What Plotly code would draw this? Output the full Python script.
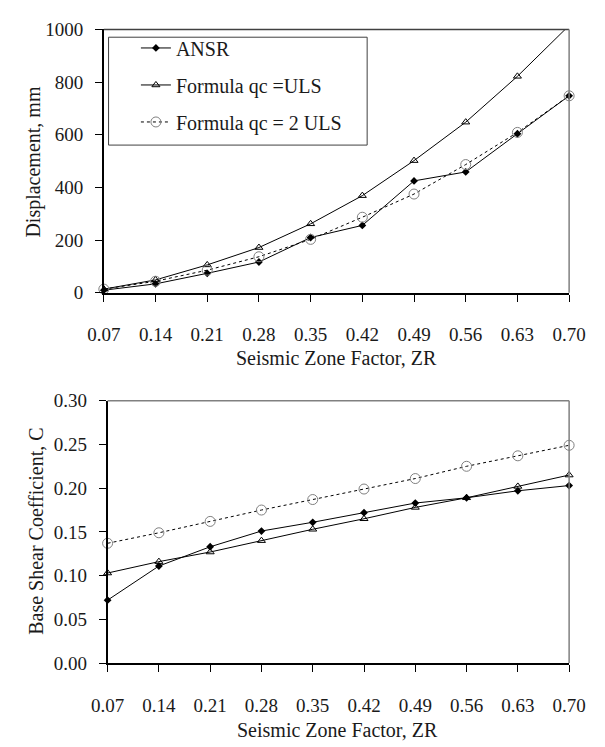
import plotly.graph_objects as go

# Seismic zone factor (x) shared by both panels
zr = [0.07, 0.14, 0.21, 0.28, 0.35, 0.42, 0.49, 0.56, 0.63, 0.70]
zr_labels = ["0.07", "0.14", "0.21", "0.28", "0.35", "0.42", "0.49", "0.56", "0.63", "0.70"]

# Displacement, mm
disp_ansr = [10, 34, 74, 117, 210, 256, 425, 459, 604, 748]
disp_uls = [14, 49, 106, 172, 262, 369, 502, 648, 822, 1015]
disp_2uls = [14, 44, 86, 137, 203, 287, 375, 487, 609, 748]

# Base shear coefficient, C
c_ansr = [0.072, 0.111, 0.133, 0.151, 0.161, 0.172, 0.183, 0.189, 0.197, 0.203]
c_uls = [0.103, 0.116, 0.127, 0.140, 0.153, 0.165, 0.178, 0.189, 0.202, 0.215]
c_2uls = [0.137, 0.149, 0.162, 0.175, 0.187, 0.199, 0.211, 0.225, 0.237, 0.249]

disp_ticks = [0, 200, 400, 600, 800, 1000]
c_ticks = [0.00, 0.05, 0.10, 0.15, 0.20, 0.25, 0.30]

names = ["ANSR", "Formula qc =ULS", "Formula qc = 2 ULS"]

W, H = 605, 747
FONT = "Liberation Serif, Times New Roman, serif"
INK = "#1a1a1a"

def px_x(v):
    return v / W

def px_y(v):
    return 1 - v / H

styles = [
    dict(mode="lines+markers", line=dict(color="black", width=1),
         marker=dict(symbol="diamond", size=6, color="black")),
    dict(mode="lines+markers", line=dict(color="black", width=1),
         marker=dict(symbol="triangle-up-open", size=7, color="black",
                     line=dict(color="black", width=1))),
    dict(mode="lines+markers", line=dict(color="black", width=1, dash="dot"),
         marker=dict(symbol="circle-open", size=10, color="#808080",
                     line=dict(color="#808080", width=1))),
]

fig = go.Figure()

top_series = [disp_ansr, disp_uls, disp_2uls]
bot_series = [c_ansr, c_uls, c_2uls]

for i, (name, ys) in enumerate(zip(names, top_series)):
    fig.add_trace(go.Scatter(x=zr, y=ys, name=name, xaxis="x", yaxis="y",
                             legendgroup=name, showlegend=True,
                             cliponaxis=(i == 1), **styles[i]))

for i, (name, ys) in enumerate(zip(names, bot_series)):
    fig.add_trace(go.Scatter(x=zr, y=ys, name=name, xaxis="x2", yaxis="y2",
                             legendgroup=name, showlegend=False,
                             cliponaxis=False, **styles[i]))

axis_common = dict(showgrid=False, zeroline=False, showline=True,
                   linecolor="black", linewidth=1.5, ticks="outside",
                   ticklen=7, tickcolor="black", tickwidth=1,
                   tickfont=dict(family=FONT, size=19, color=INK))

fig.update_layout(
    width=W, height=H, autosize=False,
    margin=dict(l=0, r=0, t=0, b=0),
    paper_bgcolor="white", plot_bgcolor="white",
    font=dict(family=FONT, size=19, color=INK),
    xaxis=dict(domain=[px_x(92), px_x(585)], anchor="y", range=[0.07, 0.70],
               tickvals=zr, ticktext=zr_labels, ticklabelstandoff=17,
               **axis_common),
    yaxis=dict(domain=[px_y(291), px_y(20)], anchor="x", range=[0, 1000],
               tickvals=disp_ticks, ticklabelstandoff=8, **axis_common),
    xaxis2=dict(domain=[px_x(96), px_x(585)], anchor="y2", range=[0.07, 0.70],
                tickvals=zr, ticktext=zr_labels, ticklabelstandoff=17,
                **axis_common),
    yaxis2=dict(domain=[px_y(672), px_y(402)], anchor="x2", range=[0, 0.30],
                tickvals=c_ticks, tickformat=".2f", ticklabelstandoff=8,
                **axis_common),
    showlegend=True,
    legend=dict(x=px_x(126), y=px_y(19), xanchor="left", yanchor="top",
                bgcolor="rgba(0,0,0,0)", borderwidth=0,
                tracegroupgap=8,
                font=dict(family=FONT, size=20, color=INK)),
)

# Frame: light top/right edges on each panel and the legend box
shapes = []
for xr, yr, top_col in [("x domain", "y domain", "#404040"), ("x2 domain", "y2 domain", "#808080")]:
    shapes.append(dict(type="line", xref=xr, yref=yr, x0=0, x1=1, y0=1, y1=1,
                       line=dict(color=top_col, width=1.5)))
    shapes.append(dict(type="line", xref=xr, yref=yr, x0=1, x1=1, y0=0, y1=1,
                       line=dict(color="#808080", width=1.5)))
shapes.append(dict(type="rect", xref="paper", yref="paper",
                   x0=px_x(97), x1=px_x(371), y0=px_y(139), y1=px_y(28),
                   line=dict(color="#404040", width=1), fillcolor="rgba(0,0,0,0)"))
fig.update_layout(shapes=shapes)

title_font = dict(family=FONT, size=20, color=INK)
fig.update_layout(annotations=[
    dict(text="Seismic Zone Factor, ZR", xref="paper", yref="paper",
         x=px_x(338), y=px_y(358), xanchor="center", yanchor="middle",
         showarrow=False, font=title_font),
    dict(text="Seismic Zone Factor, ZR", xref="paper", yref="paper",
         x=px_x(340), y=px_y(741), xanchor="center", yanchor="middle",
         showarrow=False, font=title_font),
    dict(text="Displacement, mm", xref="paper", yref="paper",
         x=px_x(18), y=px_y(156), xanchor="center", yanchor="middle",
         textangle=-90, showarrow=False, font=title_font),
    dict(text="Base Shear Coefficient, C", xref="paper", yref="paper",
         x=px_x(20), y=px_y(536), xanchor="center", yanchor="middle",
         textangle=-90, showarrow=False, font=title_font),
])

fig.write_html("out.html")
